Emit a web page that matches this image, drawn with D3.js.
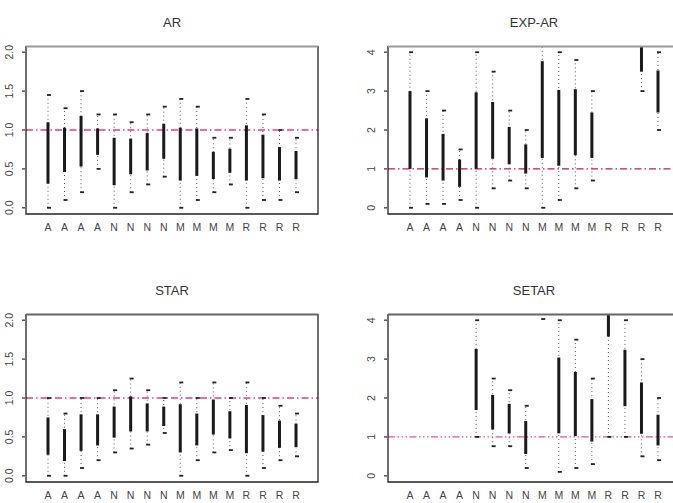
<!DOCTYPE html>
<html>
<head>
<meta charset="utf-8">
<script src="https://cdn.jsdelivr.net/npm/d3@7"></script>
<style>
  body { margin: 0; background: #fff; }
  svg { display: block; font-family: "Liberation Sans", Arial, sans-serif; }
</style>
</head>
<body>
<div id="chart"></div>
<script>
// 16 series, labelled by group
let categories = ['A','A','A','A','N','N','N','N','M','M','M','M','R','R','R','R'];

// each model: whisker low, box low, box high, whisker high (null = no result)
let arLow   = [0, 0.10, 0.20, 0.50, 0, 0.20, 0.30, 0.40, 0, 0.10, 0.20, 0.30, 0, 0.10, 0.10, 0.20];
let arBoxLo = [0.31, 0.46, 0.53, 0.68, 0.29, 0.43, 0.48, 0.63, 0.35, 0.41, 0.37, 0.45, 0.35, 0.38, 0.35, 0.37];
let arBoxHi = [1.10, 1.03, 1.18, 1.02, 0.90, 0.89, 0.96, 1.08, 1.03, 1.02, 0.72, 0.76, 1.06, 0.94, 0.78, 0.73];
let arHigh  = [1.45, 1.28, 1.50, 1.20, 1.20, 1.10, 1.20, 1.30, 1.40, 1.30, 0.90, 0.90, 1.40, 1.20, 1.00, 0.90];

let expLow   = [0, 0.10, 0.10, 0.20, 0, 0.50, 0.70, 0.50, 0, 0.20, 0.50, 0.70, null, null, 3.00, 2.00];
let expBoxLo = [1.00, 0.78, 0.70, 0.54, 1.00, 1.26, 1.12, 0.88, 1.28, 1.08, 1.35, 1.28, null, null, 3.50, 2.45];
let expBoxHi = [3.00, 2.30, 1.90, 1.24, 2.97, 2.72, 2.08, 1.63, 3.77, 3.03, 3.05, 2.45, null, null, 4.60, 3.53];
let expHigh  = [4.00, 3.00, 2.50, 1.50, 4.00, 3.50, 2.50, 2.00, 4.50, 4.00, 3.80, 3.00, null, null, 5.00, 4.00];

let starLow   = [0, 0, 0.10, 0.20, 0.30, 0.35, 0.40, 0.55, 0, 0.20, 0.30, 0.33, 0, 0.10, 0.20, 0.25];
let starBoxLo = [0.27, 0.19, 0.32, 0.39, 0.49, 0.57, 0.57, 0.64, 0.30, 0.39, 0.53, 0.48, 0.29, 0.31, 0.36, 0.37];
let starBoxHi = [0.75, 0.60, 0.79, 0.79, 0.89, 1.02, 0.93, 0.89, 0.92, 0.80, 0.98, 0.83, 0.91, 0.78, 0.71, 0.67];
let starHigh  = [1.00, 0.80, 1.00, 1.00, 1.10, 1.25, 1.10, 1.00, 1.20, 1.00, 1.20, 1.00, 1.20, 1.00, 0.90, 0.80];

let setarLow   = [null, null, null, null, 1.00, 0.76, 0.76, 0.20, 4.03, 0.10, 0.20, 0.30, 1.00, 1.00, 0.50, 0.40];
let setarBoxLo = [null, null, null, null, 1.69, 1.19, 1.09, 0.56, 4.60, 1.09, 1.02, 0.88, 3.58, 1.79, 1.08, 0.78];
let setarBoxHi = [null, null, null, null, 3.26, 2.08, 1.85, 1.41, 5.50, 3.04, 2.67, 1.97, 4.80, 3.24, 2.40, 1.57];
let setarHigh  = [null, null, null, null, 4.00, 2.50, 2.20, 1.80, 6.00, 4.00, 3.50, 2.50, 5.20, 4.00, 3.00, 2.00];

let arTicks = [0, 0.5, 1, 1.5, 2];
let expTicks = [0, 1, 2, 3, 4];

let width = 673;
let height = 503;
let boxW = 292;
let boxH = 168;

let svg = d3.select('#chart')
  .append('svg')
  .attr('width', width)
  .attr('height', height);

function zip(lo, q1, q3, hi) {
  return categories.map((c, i) => ({ i: i, label: c, lo: lo[i], q1: q1[i], q3: q3[i], hi: hi[i] }));
}

let panels = [
  { title: 'AR', left: 26, top: 46, ymax: 2, ticks: arTicks, fmt: d3.format('.1f'),
    data: zip(arLow, arBoxLo, arBoxHi, arHigh), refColor: '#e0407f', refDash: '7,3,1.5,3', topColor: '#999' },
  { title: 'EXP-AR', left: 388, top: 46, ymax: 4, ticks: expTicks, fmt: d3.format('d'),
    data: zip(expLow, expBoxLo, expBoxHi, expHigh), refColor: '#a8244f', refDash: '7,3,1.5,3', topColor: '#999' },
  { title: 'STAR', left: 26, top: 314, ymax: 2, ticks: arTicks, fmt: d3.format('.1f'),
    data: zip(starLow, starBoxLo, starBoxHi, starHigh), refColor: '#e0407f', refDash: '7,3,1.5,3', topColor: '#666' },
  { title: 'SETAR', left: 388, top: 314, ymax: 4, ticks: expTicks, fmt: d3.format('d'),
    data: zip(setarLow, setarBoxLo, setarBoxHi, setarHigh), refColor: '#d9578a', refDash: '7,2.5,1.5,2.5,1.5,2.5,1.5,2.5', topColor: '#666' }
];

panels.forEach((p, k) => {
  let pad = p.ymax * 0.04;
  let x = d3.scaleLinear().domain([1 - 1.33, 16 + 1.33]).range([0, boxW]);
  let y = d3.scaleLinear().domain([-pad, p.ymax + pad]).range([boxH, 0]);

  let g = svg.append('g')
    .attr('transform', 'translate(' + p.left + ',' + p.top + ')');

  g.append('clipPath')
    .attr('id', 'clip' + k)
    .append('rect')
    .attr('width', boxW)
    .attr('height', boxH);

  // title
  g.append('text')
    .attr('x', boxW / 2)
    .attr('y', -19)
    .attr('text-anchor', 'middle')
    .style('font-size', '13px')
    .style('fill', '#333')
    .text(p.title);

  // y axis: short ticks + rotated labels
  let yAxis = g.append('g').attr('class', 'y-axis');
  yAxis.selectAll('line')
    .data(p.ticks)
    .enter()
    .append('line')
    .attr('x1', -4)
    .attr('x2', -1)
    .attr('y1', d => y(d))
    .attr('y2', d => y(d))
    .style('stroke', '#555')
    .style('stroke-width', 1.5);
  yAxis.selectAll('text')
    .data(p.ticks)
    .enter()
    .append('text')
    .attr('transform', d => 'translate(' + (-13) + ',' + y(d) + ') rotate(-90)')
    .attr('text-anchor', 'middle')
    .style('font-size', '10.5px')
    .style('fill', '#444')
    .text(d => p.fmt(d));

  // x labels
  g.selectAll('.xlab')
    .data(p.data)
    .enter()
    .append('text')
    .attr('class', 'xlab')
    .attr('x', d => x(d.i + 1))
    .attr('y', boxH + 17)
    .attr('text-anchor', 'middle')
    .style('font-size', '10.5px')
    .style('fill', '#444')
    .text(d => d.label);

  let plot = g.append('g').attr('clip-path', 'url(#clip' + k + ')');

  // reference line at 1
  plot.append('line')
    .attr('x1', 0)
    .attr('x2', boxW)
    .attr('y1', y(1))
    .attr('y2', y(1))
    .style('stroke', p.refColor)
    .style('stroke-width', 1.3)
    .style('stroke-dasharray', p.refDash);

  let marks = p.data.filter(d => d.lo !== null);

  // dotted whiskers
  plot.selectAll('.whisker')
    .data(marks)
    .enter()
    .append('line')
    .attr('class', 'whisker')
    .attr('x1', d => x(d.i + 1))
    .attr('x2', d => x(d.i + 1))
    .attr('y1', d => y(d.lo))
    .attr('y2', d => y(d.hi))
    .style('stroke', '#555')
    .style('stroke-width', 1)
    .style('stroke-dasharray', '1,3');

  // end caps
  ['lo', 'hi'].forEach(key => {
    plot.selectAll('.cap-' + key)
      .data(marks)
      .enter()
      .append('line')
      .attr('class', 'cap-' + key)
      .attr('x1', d => x(d.i + 1) - 1)
      .attr('x2', d => x(d.i + 1) + 3)
      .attr('y1', d => y(d[key]))
      .attr('y2', d => y(d[key]))
      .style('stroke', '#222')
      .style('stroke-width', 1.8);
  });

  // boxes
  plot.selectAll('.bar')
    .data(marks)
    .enter()
    .append('rect')
    .attr('class', 'bar')
    .attr('x', d => x(d.i + 1) - 1.5)
    .attr('width', 3)
    .attr('y', d => y(d.q3))
    .attr('height', d => y(d.q1) - y(d.q3))
    .style('fill', '#1a1a1a');

  // frame: left, bottom, right dark, top grey
  g.append('path')
    .attr('d', 'M0,0V' + boxH + 'H' + boxW + 'V0')
    .style('fill', 'none')
    .style('stroke', '#222')
    .style('stroke-width', 1.3);
  g.append('line')
    .attr('x1', 0)
    .attr('x2', boxW)
    .attr('y1', 0.5)
    .attr('y2', 0.5)
    .style('stroke', p.topColor)
    .style('stroke-width', 2);
});
</script>
</body>
</html>
